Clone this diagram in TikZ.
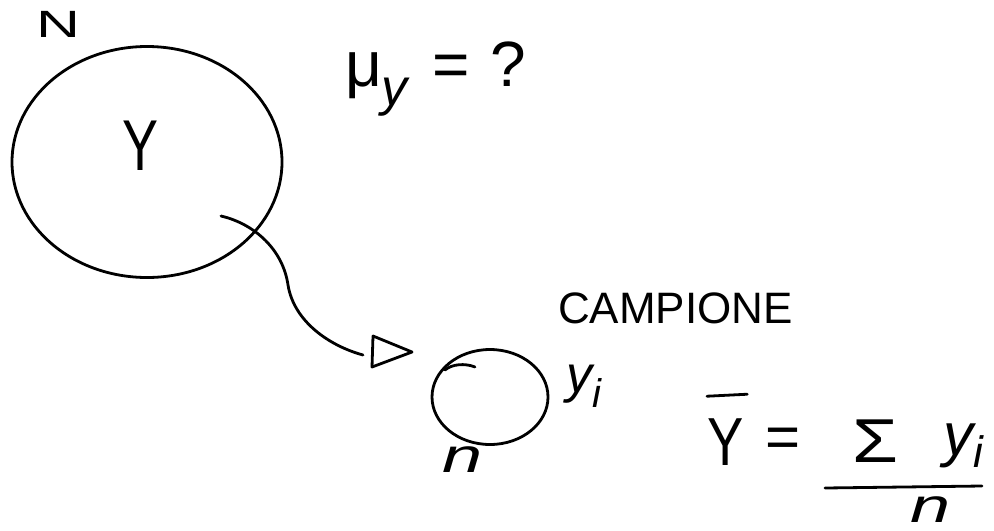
\documentclass[tikz,border=0pt]{standalone}
\usepackage{fontspec}
\usepackage{graphicx}
\setmainfont{Liberation Sans}
\usetikzlibrary{shapes.geometric}
\begin{document}
\begin{tikzpicture}[x=0.5pt,y=-0.5pt,line width=1.4pt,line cap=round,line join=round,
  lbl/.style={inner sep=0pt,outer sep=0pt},
  pen/.style={draw,line width=1.4pt},
  blob/.style={ellipse,pen,inner sep=0pt}]
\useasboundingbox (0,0) rectangle (994,530);
% population
\node[blob,minimum width=135pt,minimum height=115.5pt] (pop) at (147,162) {};
\node[lbl,anchor=base west] (N) at (36,37) {\fontsize{19}{20}\selectfont\scalebox{1.6}[1]{N}};
\node[lbl,anchor=base] (Y) at (141,170) {\fontsize{36}{38}\selectfont\scalebox{0.75}[1]{Y}};
\node[lbl,anchor=base west] (mu) at (345,86) {\fontsize{32}{34}\selectfont μ\raisebox{-0.3em}{\fontsize{26}{28}\selectfont\itshape y} \hspace{0.1em}= \hspace{0.05em}?};
% connector
\coordinate (from) at (221,216);
\coordinate (to) at (363,355);
\draw (from) .. controls (255,224) and (283,250) .. (288,285) .. controls (294,322) and (330,346) .. (to);
\coordinate (t1) at (373,336);
\coordinate (t2) at (412,352);
\coordinate (t3) at (372,367);
\draw (t1) -- (t2) -- (t3) -- cycle;
% sample
\node[lbl,anchor=base west] (camp) at (558,323) {\fontsize{22}{24}\selectfont CAMPIONE};
\node[blob,minimum width=58pt,minimum height=47.5pt] (samp) at (490,397) {};
\draw (445,370) .. controls (452,364) and (465,363) .. (475,367);
\node[lbl,anchor=base west] (yi) at (566,392) {\fontsize{26}{28}\selectfont\itshape y\raisebox{-0.3em}{\fontsize{20}{22}\selectfont i}};
\node[lbl,anchor=base] (n) at (463,472) {\fontsize{24}{26}\selectfont\itshape\scalebox{1.5}[1]{n}};
% mean formula
\node[lbl,anchor=base west] (Yb) at (707,465) {\fontsize{34}{36}\selectfont\scalebox{0.8}[1]{Y}};
\draw ([shift={(0,-22)}]Yb.north west) -- ([shift={(4,-24)}]Yb.north east);
\node[lbl] (eq) at (783,443) {\fontsize{30}{32}\selectfont =};
\node[lbl,anchor=base west] (sig) at (852,462) {\fontsize{31}{33}\selectfont\scalebox{1.2}[1]{Σ}};
\node[lbl,anchor=base west] (yi2) at (943,455) {\fontsize{30}{32}\selectfont\itshape y\raisebox{-0.2em}{\fontsize{22}{24}\selectfont i}};
\coordinate (fl) at (825,488);
\coordinate (fr) at (982,486);
\draw (fl) -- (fr);
\node[lbl,anchor=base] (den) at (931,522) {\fontsize{24}{26}\selectfont\itshape\scalebox{1.5}[1]{n}};
\end{tikzpicture}
\end{document}
